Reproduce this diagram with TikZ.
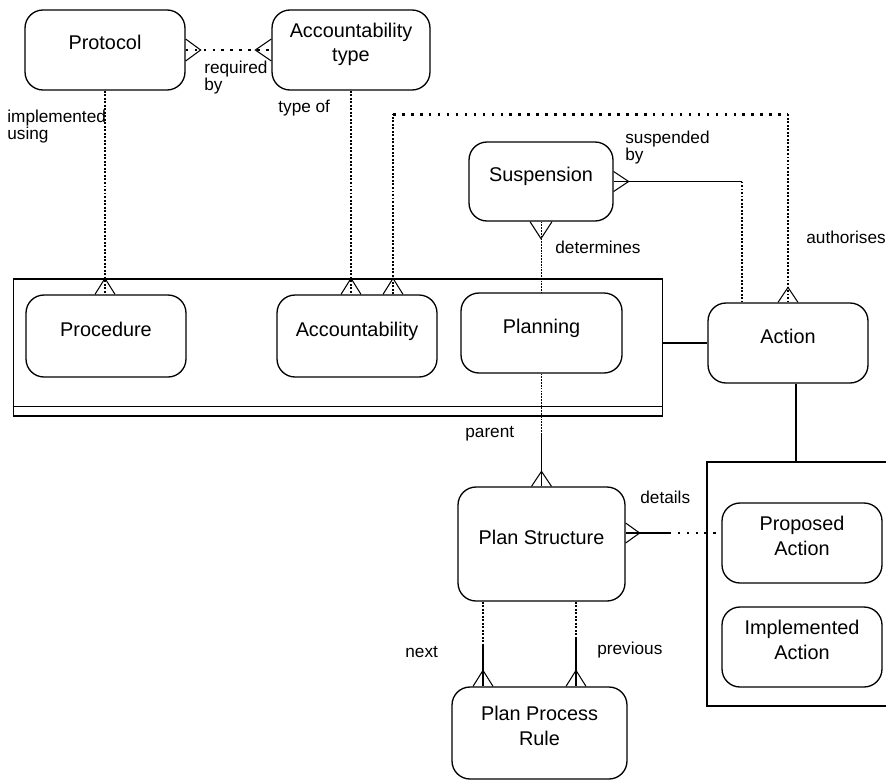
\documentclass[tikz,border=0pt]{standalone}
\usepackage{fontspec}
\setmainfont{Liberation Sans}
\usetikzlibrary{calc, positioning}
\newcommand{\entfont}{\fontsize{11.3}{13.7}\selectfont}
\newcommand{\relfont}{\fontsize{9.8}{9.8}\selectfont}
\newcommand{\twoline}[2]{\begin{tabular}[b]{@{}c@{}}#1\\#2\end{tabular}}
\newcommand{\rellbl}[2]{\begin{tabular}[t]{@{}l@{}}#1\\#2\end{tabular}}
\newcommand{\crow}[3]{\draw[ln] ($#1+#2$) -- ($#1+#3$) -- ($#1-#2$);}

\begin{document}
\begin{tikzpicture}[x=0.02cm, y=-0.02cm,
  ent/.style={draw, rounded corners=0.36cm, line width=0.75pt, font=\entfont,
              inner sep=0pt, minimum width=3.2cm, minimum height=1.6cm,
              text height=0.25cm, text depth=0.25cm},
  ent2/.style={ent, text height=0.58cm, text depth=0.1cm},
  ln/.style={line width=0.6pt},
  dotv/.style={line width=1.6pt, dash pattern=on 1.1pt off 0.9pt},
  doth/.style={line width=1.5pt, dash pattern=on 1.5pt off 3.6pt},
  dsh/.style={line width=0.5pt, dash pattern=on 1pt off 0.6pt},
  lbl/.style={font=\relfont, inner sep=0pt, anchor=base west}]
  \useasboundingbox (0,0) rectangle (886,781);
  % entity types
  \node[ent] (protocol) at (105,50) {Protocol};
  \node[ent2, minimum width=3.16cm] (acctype) at (351,50) {\twoline{Accountability}{type}};
  \node[ent, minimum width=2.88cm, minimum height=1.58cm] (susp) at (541,181.5) {Suspension};
  % supertype box
  \node[draw, ln, inner sep=0pt, minimum width=13cm, minimum height=2.74cm] (grp) at (338,347.5) {};
  \draw[ln] ($(grp.south west)+(0,-10)$) -- ($(grp.south east)+(0,-10)$);
  \node[ent, minimum height=1.64cm] (proc) at (106,336) {Procedure};
  \node[ent, minimum height=1.64cm] (acc) at (357,336) {Accountability};
  \node[ent, minimum width=3.22cm] (planning) at (541.5,333) {Planning};
  \node[ent] (action) at (788,343) {Action};
  \node[ent, minimum width=3.34cm, minimum height=2.28cm] (plan) at (541.5,544) {Plan Structure};
  \node[ent2, minimum width=3.5cm, minimum height=1.84cm] (rule) at (539.5,733) {\twoline{Plan Process}{Rule}};
  % subtypes of action
  \draw[ln] (886,462) -| (707,706) -- (886,706);
  \coordinate (kinds) at (796,462);
  \node[ent2] (proposed) at (802,543) {\twoline{Proposed}{Action}};
  \node[ent2] (impl) at (802,647) {\twoline{Implemented}{Action}};

  % required by
  \draw[doth] (protocol.east) -- (acctype.west);
  \crow{(protocol.east)}{(0,11)}{(15,0)}
  \crow{(acctype.west)}{(0,11)}{(-16,0)}
  % implemented using, type of
  \draw[dotv] (protocol.south) -- (protocol.south |- proc.north);
  \crow{(protocol.south |- proc.north)}{(10,0)}{(0,-16)}
  \draw[dotv] (acctype.south) -- (acctype.south |- acc.north);
  \crow{(acctype.south |- acc.north)}{(10,0)}{(0,-16)}
  % authorises
  \coordinate (authA) at ($(acc.north)+(36,0)$);
  \coordinate (authB) at ($(authA)+(0,-180)$);
  \coordinate (authC) at (action.north |- authB);
  \draw[dotv] (authA) -- (authB);
  \draw[doth] (authB) -- (authC);
  \draw[dotv] (authC) -- (action.north);
  \crow{(authA)}{(10,0)}{(0,-16)}
  \crow{(action.north)}{(10,0)}{(0,-15)}
  % suspended by
  \coordinate (suspA) at ($(action.north)+(-46,0)$);
  \draw[ln] (susp.east) -- (susp.east -| suspA);
  \draw[dotv] (susp.east -| suspA) -- (suspA);
  \crow{(susp.east)}{(0,10)}{(15,0)}
  % determines
  \draw[dsh] (susp.south) -- (susp.south |- planning.north);
  \crow{(susp.south)}{(11,0)}{(0,17)}
  % parent
  \coordinate (parentA) at ($(planning.south)+(0,59)$);
  \draw[dsh] (planning.south) -- (parentA);
  \draw[ln] (parentA) -- (plan.north);
  \crow{(plan.north)}{(10,0)}{(0,-15)}
  % supertype to action, action to its subtypes
  \draw[ln] (action.west -| grp.east) -- (action.west);
  \draw[ln] (action.south -| kinds) -- (kinds);
  % details
  \coordinate (detA) at ($(plan.east)+(0,-11)$);
  \coordinate (detB) at ($(detA)+(43,0)$);
  \draw[ln] (detA) -- (detB);
  \draw[doth] (detB) -- (detA -| proposed.west);
  \crow{(detA)}{(0,10)}{(14,0)}
  % next / previous
  \foreach \dx/\dlen in {-58.5/42, 34.5/37}{
    \draw[dotv] ($(plan.south)+(\dx,0)$) -- ++(0,\dlen) coordinate (brk);
    \draw[ln] (brk) -- (brk |- rule.north);
    \crow{(brk |- rule.north)}{(10,0)}{(0,-16)}
  }

  % relationship names
  \node[lbl] (lImpl) at (7,122) {\rellbl{implemented}{using}};
  \node[lbl] (lReq) at (204,73) {\rellbl{required}{by}};
  \node[lbl] (lType) at (278,112) {type of};
  \node[lbl] (lSusp) at (625,143) {\rellbl{suspended}{by}};
  \node[lbl] (lDet) at (555,253) {determines};
  \node[lbl] (lAuth) at (806,243) {authorises};
  \node[lbl] (lParent) at (465,437) {parent};
  \node[lbl] (lDetails) at (640,503) {details};
  \node[lbl] (lNext) at (405,657) {next};
  \node[lbl] (lPrev) at (597,654) {previous};
\end{tikzpicture}
\end{document}
